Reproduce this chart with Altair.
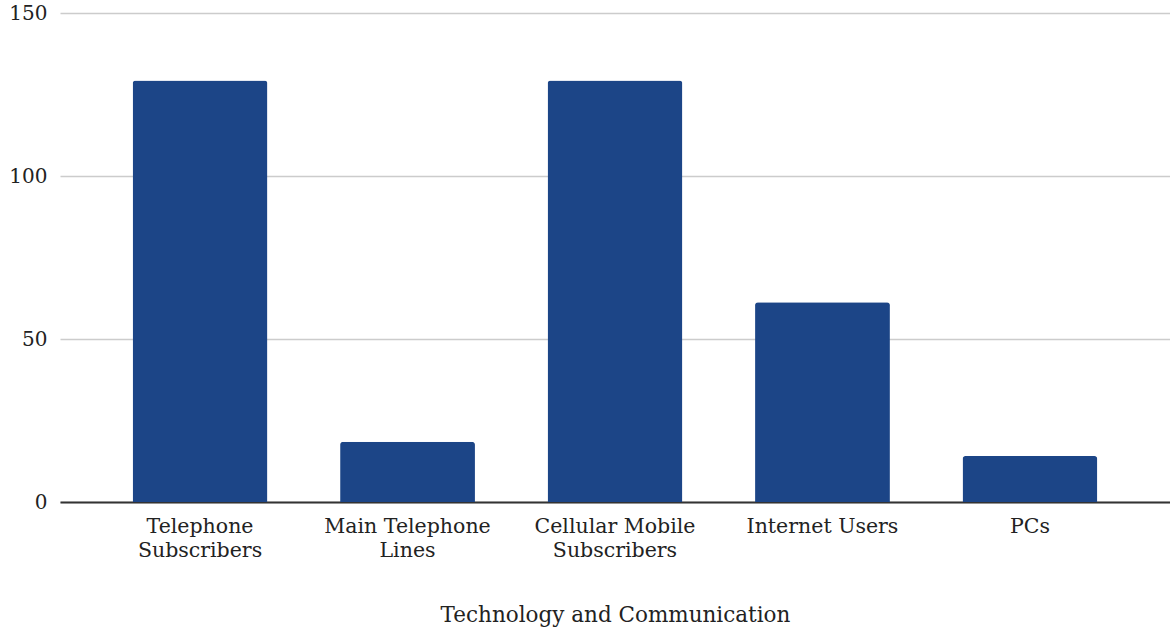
import altair as alt
import pandas as pd

categories = [
    "Telephone Subscribers",
    "Main Telephone Lines",
    "Cellular Mobile Subscribers",
    "Internet Users",
    "PCs",
]
label_lines = [
    ["Telephone", "Subscribers"],
    ["Main Telephone", "Lines"],
    ["Cellular Mobile", "Subscribers"],
    ["Internet Users"],
    ["PCs"],
]
values = [129.3, 18.5, 129.3, 61.3, 14.1]
y_ticks = [0, 50, 100, 150]

df = pd.DataFrame({"category": categories, "value": values})

# Build a multi-line label expression from the label lines
parts = []
for cat, lines in zip(categories, label_lines):
    arr = "[" + ",".join("'" + l + "'" for l in lines) + "]"
    parts.append(f"datum.value == '{cat}' ? {arr} : ")
label_expr = "".join(parts) + "datum.value"

FONT = "DejaVu Serif"

chart = (
    alt.Chart(df)
    .mark_bar(color="#1c4587", cornerRadiusTopLeft=3, cornerRadiusTopRight=3)
    .encode(
        x=alt.X(
            "category:N",
            sort=categories,
            title="Technology and Communication",
            scale=alt.Scale(paddingInner=0.35, paddingOuter=0.35),
            axis=alt.Axis(
                labelExpr=label_expr,
                labelAngle=0,
                labelFont=FONT,
                labelFontSize=20.5,
                labelColor="#222222",
                labelLineHeight=24,
                labelPadding=14,
                ticks=False,
                grid=False,
                domainColor="#333333",
                domainWidth=2,
                titleFont=FONT,
                titleFontSize=21.5,
                titleFontWeight="normal",
                titleColor="#222222",
                titlePadding=44,
            ),
        ),
        y=alt.Y(
            "value:Q",
            title=None,
            scale=alt.Scale(domain=[0, 150], nice=False),
            axis=alt.Axis(
                values=y_ticks,
                labelFont=FONT,
                labelFontSize=20,
                labelColor="#222222",
                labelPadding=13,
                ticks=False,
                domain=False,
                gridColor="#cccccc",
                gridWidth=1.5,
            ),
        ),
    )
    .properties(
        width=1110,
        height=489,
        background="white",
        autosize=alt.AutoSizeParams(type="none"),
        padding={"left": 60, "top": 13, "right": 0, "bottom": 131},
    )
    .configure_view(strokeWidth=0, stroke="transparent")
)

chart.save("out.html", embed_options={"renderer": "svg", "actions": False})
